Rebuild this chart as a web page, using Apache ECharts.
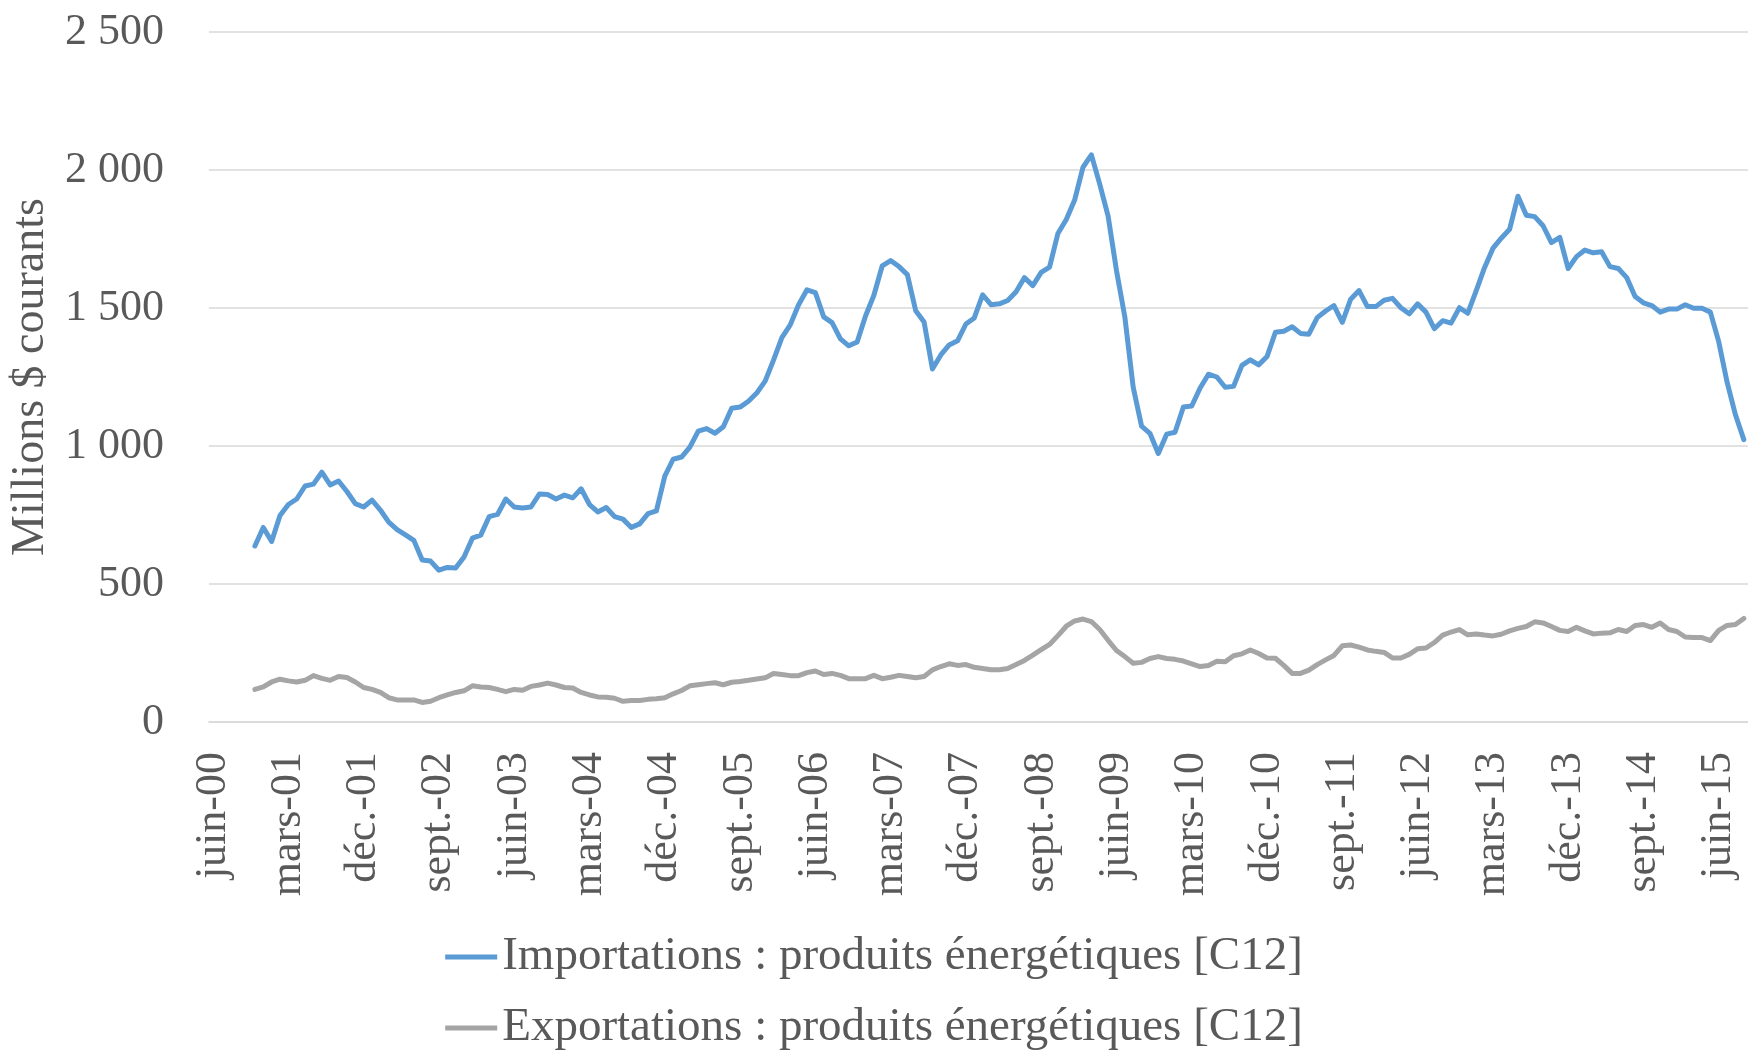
<!DOCTYPE html>
<html lang="fr" style="height: 100%">
<head>
  <meta charset="utf-8">
</head>
<body style="height: 100%; margin: 0">
  <div id="container" style="width: 1748px; height: 1055px"></div>

  <script type="text/javascript" src="https://fastly.jsdelivr.net/npm/echarts@6/dist/echarts.min.js"></script>

  <script type="text/javascript">
    var dom = document.getElementById('container');
    var myChart = echarts.init(dom, null, { renderer: 'canvas' });
    var option;

    // mois en français, axe mensuel qui commence en juin 2000
    var monthNames = ['janv.', 'févr.', 'mars', 'avr.', 'mai', 'juin',
      'juil.', 'août', 'sept.', 'oct.', 'nov.', 'déc.'];
    var startYear = 2000;
    var startMonth = 5; // juin
    var monthCount = 184;

    var seriesNames = [
      'Importations : produits énergétiques [C12]',
      'Exportations : produits énergétiques [C12]'
    ];

    // pas de valeurs avant nov.-00
    var importations = [null, null, null, null, null,
      638, 705, 654, 748, 788, 808, 855, 862, 905, 859, 873, 835, 791, 779, 804,
      768, 724, 697, 678, 658, 587, 583, 550, 560, 558, 598, 666, 677, 744, 752,
      808, 779, 775, 779, 826, 824, 808, 822, 812, 845, 788, 761, 777, 744, 735,
      705, 718, 755, 765, 891, 952, 960, 996, 1054, 1063, 1046, 1070, 1137, 1141, 1162,
      1192, 1235, 1311, 1393, 1439, 1512, 1566, 1556, 1468, 1447, 1388, 1363, 1377, 1471, 1546,
      1653, 1672, 1650, 1621, 1490, 1449, 1279, 1330, 1366, 1381, 1442, 1464, 1548, 1512, 1515,
      1527, 1559, 1610, 1581, 1629, 1648, 1770, 1821, 1891, 2010, 2055, 1949, 1833, 1636, 1468,
      1213, 1072, 1046, 973, 1043, 1050, 1141, 1145, 1210, 1260, 1250, 1213, 1216, 1292, 1312,
      1294, 1324, 1412, 1416, 1432, 1408, 1405, 1465, 1489, 1509, 1448, 1532, 1563, 1505, 1505,
      1528, 1535, 1501, 1479, 1515, 1485, 1425, 1454, 1445, 1501, 1481, 1562, 1646, 1716, 1753,
      1785, 1905, 1836, 1831, 1798, 1737, 1756, 1643, 1686, 1710, 1700, 1704, 1650, 1643, 1610,
      1542, 1519, 1509, 1485, 1496, 1496, 1512, 1499, 1499, 1485, 1378, 1231, 1113, 1023];

    var exportations = [null, null, null, null, null,
      118, 127, 145, 155, 149, 145, 151, 168, 158, 151, 165, 161, 145, 125, 118,
      107, 88, 80, 80, 80, 71, 75, 88, 98, 107, 113, 131, 127, 125, 118,
      110, 118, 115, 129, 134, 141, 134, 125, 123, 107, 98, 91, 90, 86, 75,
      78, 78, 82, 84, 88, 102, 114, 131, 135, 139, 142, 135, 144, 147, 151,
      156, 160, 176, 172, 168, 168, 179, 185, 172, 176, 169, 157, 157, 157, 169,
      157, 162, 169, 165, 160, 165, 189, 201, 211, 205, 208, 198, 194, 189, 189,
      194, 208, 223, 242, 262, 281, 313, 347, 366, 373, 364, 335, 296, 259, 237,
      213, 216, 230, 237, 230, 227, 221, 211, 201, 205, 220, 218, 240, 247, 261,
      248, 232, 231, 205, 176, 176, 188, 208, 225, 241, 276, 279, 271, 261, 256,
      252, 232, 232, 245, 265, 268, 288, 315, 326, 335, 316, 319, 315, 312, 318,
      330, 339, 346, 363, 359, 346, 332, 328, 343, 330, 319, 322, 323, 335, 328,
      350, 353, 343, 359, 335, 328, 308, 306, 306, 295, 332, 350, 353, 375];

    var yTicks = [0, 500, 1000, 1500, 2000, 2500];

    var months = [];
    for (var i = 0; i < monthCount; i++) {
      var m = (startMonth + i) % 12;
      var y = startYear + Math.floor((startMonth + i) / 12);
      months.push(monthNames[m] + '-' + String(y % 100).padStart(2, '0'));
    }

    var font = '"Liberation Serif", "DejaVu Serif", serif';
    var textColor = '#595959';

    option = {
      animation: false,
      backgroundColor: '#ffffff',
      textStyle: { fontFamily: font },
      legend: {
        orient: 'vertical',
        left: 'center',
        top: 932,
        padding: 0,
        itemWidth: 52,
        itemHeight: 5,
        itemGap: 21,
        icon: 'rect',
        data: seriesNames,
        textStyle: {
          fontFamily: font,
          fontSize: 47,
          lineHeight: 50,
          color: textColor
        }
      },
      grid: {
        left: 207,
        top: 32,
        width: 1544.5,
        height: 690
      },
      xAxis: {
        type: 'category',
        data: months,
        boundaryGap: true,
        axisTick: { show: false },
        axisLine: { lineStyle: { color: '#d9d9d9', width: 1.5 } },
        axisLabel: {
          interval: 8,
          rotate: 90,
          margin: 30,
          fontFamily: font,
          fontSize: 44,
          color: textColor
        }
      },
      yAxis: {
        type: 'value',
        min: yTicks[0],
        max: yTicks[yTicks.length - 1],
        interval: 500,
        name: 'Millions $ courants',
        nameLocation: 'middle',
        nameGap: 150,
        nameTextStyle: {
          fontFamily: font,
          fontSize: 46,
          color: textColor
        },
        axisLine: { show: false },
        axisTick: { show: false },
        splitLine: { lineStyle: { color: '#d9d9d9', width: 1.5 } },
        axisLabel: {
          margin: 45,
          fontFamily: font,
          fontSize: 44,
          color: textColor,
          formatter: function (v) {
            return String(v).replace(/\B(?=(\d{3})+(?!\d))/g, ' ');
          }
        }
      },
      series: [
        {
          name: seriesNames[0],
          type: 'line',
          data: importations,
          symbol: 'none',
          color: '#5b9bd5',
          lineStyle: { width: 5, cap: 'round', join: 'round' }
        },
        {
          name: seriesNames[1],
          type: 'line',
          data: exportations,
          symbol: 'none',
          color: '#a5a5a5',
          lineStyle: { width: 5, cap: 'round', join: 'round' }
        }
      ]
    };

    if (option && typeof option === 'object') {
      myChart.setOption(option);
    }

    window.addEventListener('resize', myChart.resize);
  </script>
</body>
</html>
